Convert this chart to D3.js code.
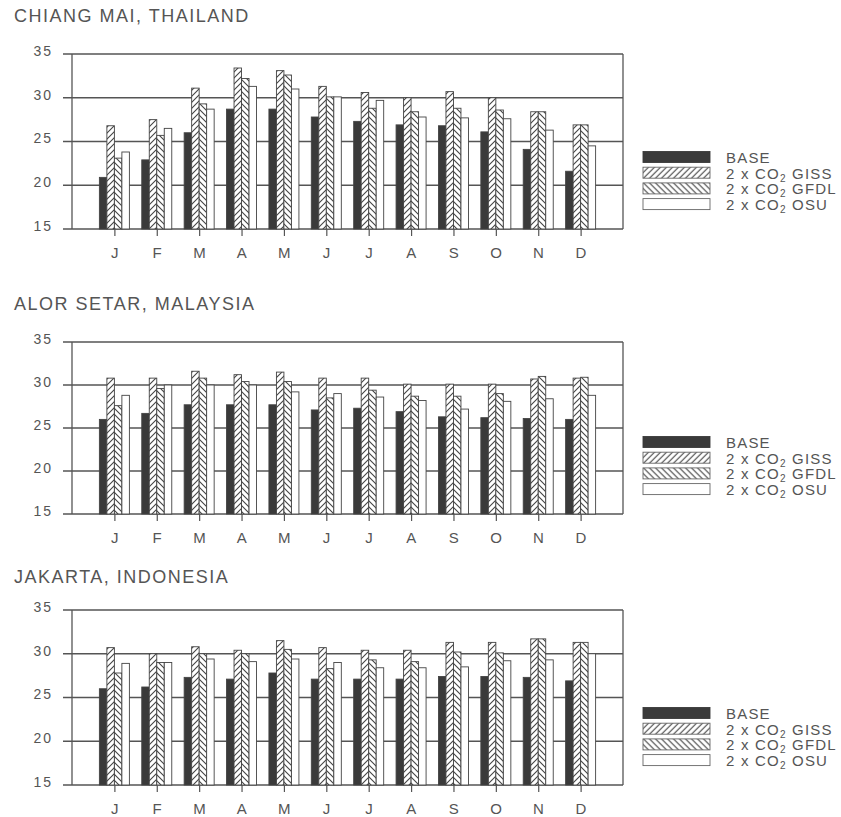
<!DOCTYPE html>
<meta charset="utf-8">
<head>
<style>
  body { margin: 0; background: #fff; }
  text { font-family: "Liberation Sans", Arial, Helvetica, sans-serif; fill: #555; }
</style>
</head>
<body>
<script src="https://d3js.org/d3.v7.min.js"></script>
<div id="chart"></div>
<script>

// month labels and series names
var months = ["J", "F", "M", "A", "M", "J", "J", "A", "S", "O", "N", "D"];
var seriesKeys = ["base", "giss", "gfdl", "osu"];
var yTicks = [15, 20, 25, 30, 35];

// Chiang Mai, Thailand (deg C)
var chiangBase = [20.9, 22.9, 26.0, 28.7, 28.7, 27.8, 27.3, 26.9, 26.8, 26.1, 24.1, 21.6];
var chiangGiss = [26.8, 27.5, 31.1, 33.4, 33.1, 31.3, 30.6, 30.0, 30.7, 30.0, 28.4, 26.9];
var chiangGfdl = [23.1, 25.7, 29.3, 32.2, 32.6, 30.1, 28.8, 28.4, 28.8, 28.6, 28.4, 26.9];
var chiangOsu  = [23.8, 26.5, 28.7, 31.3, 31.0, 30.1, 29.7, 27.8, 27.7, 27.6, 26.3, 24.5];

// Alor Setar, Malaysia
var alorBase = [26.0, 26.7, 27.7, 27.7, 27.7, 27.1, 27.3, 26.9, 26.3, 26.2, 26.1, 26.0];
var alorGiss = [30.8, 30.8, 31.6, 31.2, 31.5, 30.8, 30.8, 30.1, 30.1, 30.1, 30.7, 30.8];
var alorGfdl = [27.6, 29.6, 30.8, 30.4, 30.4, 28.5, 29.4, 28.7, 28.7, 29.0, 31.0, 30.9];
var alorOsu  = [28.8, 30.0, 30.0, 30.0, 29.2, 29.0, 28.6, 28.2, 27.2, 28.1, 28.4, 28.8];

// Jakarta, Indonesia
var jakBase = [26.0, 26.2, 27.3, 27.1, 27.8, 27.1, 27.1, 27.1, 27.4, 27.4, 27.3, 26.9];
var jakGiss = [30.7, 30.0, 30.8, 30.4, 31.5, 30.7, 30.4, 30.4, 31.3, 31.3, 31.7, 31.3];
var jakGfdl = [27.8, 29.0, 30.0, 30.0, 30.5, 28.3, 29.3, 29.1, 30.2, 30.1, 31.7, 31.3];
var jakOsu  = [28.9, 29.0, 29.4, 29.1, 29.4, 29.0, 28.4, 28.4, 28.5, 29.2, 29.3, 30.0];

var panels = [
  { title: "CHIANG MAI, THAILAND", titleY: 22, top: 54, bottom: 229,
    series: [chiangBase, chiangGiss, chiangGfdl, chiangOsu] },
  { title: "ALOR SETAR, MALAYSIA", titleY: 310, top: 342, bottom: 514,
    series: [alorBase, alorGiss, alorGfdl, alorOsu] },
  { title: "JAKARTA, INDONESIA", titleY: 583, top: 610, bottom: 785,
    series: [jakBase, jakGiss, jakGfdl, jakOsu] }
];

var legendItems = [
  { key: "base", label: "BASE" },
  { key: "giss", label: "GISS" },
  { key: "gfdl", label: "GFDL" },
  { key: "osu", label: "OSU" }
];

var W = 841, H = 817;
var left = 72, right = 623;
var ink = "#555";

var svg = d3.select("#chart").append("svg")
  .attr("width", W)
  .attr("height", H);

// hatch patterns
var defs = svg.append("defs");
function hatch(id, d) {
  var p = defs.append("pattern")
    .attr("id", id)
    .attr("patternUnits", "userSpaceOnUse")
    .attr("width", 6).attr("height", 6);
  p.append("rect").attr("width", 6).attr("height", 6).attr("fill", "#fff");
  p.append("path").attr("d", d)
    .attr("stroke", "#444").attr("stroke-width", 1.1).attr("fill", "none");
}
hatch("hatchGiss", "M0,6 L6,0 M-1,1 L1,-1 M5,7 L7,5");
hatch("hatchGfdl", "M0,0 L6,6 M-1,5 L1,7 M5,-1 L7,1");

var fills = { base: "#3a3a3a", giss: "url(#hatchGiss)", gfdl: "url(#hatchGfdl)", osu: "#fff" };

// x: month index 1..12 inside a 0..13 span
var x = d3.scaleLinear().domain([0, 13]).range([left, right]);
var inner = d3.scaleBand().domain(seriesKeys).range([-15, 15]);

panels.forEach(function(p) {
  var y = d3.scaleLinear().domain([15, 35]).range([p.bottom, p.top]);
  var g = svg.append("g");

  g.append("text")
    .attr("x", 14).attr("y", p.titleY)
    .style("font-size", "18px")
    .style("letter-spacing", "1.5px")
    .text(p.title);

  // grid lines with outward ticks
  g.selectAll(".grid")
    .data(yTicks)
    .enter().append("line")
    .attr("x1", left - 9).attr("x2", right)
    .attr("y1", function(d) { return y(d); })
    .attr("y2", function(d) { return y(d); })
    .attr("stroke", ink).attr("stroke-width", 1.3);

  g.selectAll(".ylab")
    .data(yTicks)
    .enter().append("text")
    .attr("x", 53).attr("y", function(d) { return y(d) - 3; })
    .attr("dy", "0.35em")
    .attr("text-anchor", "end")
    .style("font-size", "14px")
    .style("letter-spacing", "2px")
    .text(function(d) { return d; });

  // frame sides
  g.append("line")
    .attr("x1", left).attr("x2", left)
    .attr("y1", y(35)).attr("y2", y(15))
    .attr("stroke", ink).attr("stroke-width", 1.3);
  g.append("line")
    .attr("x1", right).attr("x2", right)
    .attr("y1", y(35)).attr("y2", y(15))
    .attr("stroke", ink).attr("stroke-width", 1.3);

  // bars
  var rows = [];
  months.forEach(function(m, i) {
    seriesKeys.forEach(function(k, s) {
      rows.push({ month: i + 1, key: k, value: p.series[s][i] });
    });
  });

  g.selectAll(".bar")
    .data(rows)
    .enter().append("rect")
    .attr("x", function(d) { return x(d.month) + inner(d.key); })
    .attr("width", inner.bandwidth())
    .attr("y", function(d) { return y(d.value); })
    .attr("height", function(d) { return y(15) - y(d.value); })
    .attr("fill", function(d) { return fills[d.key]; })
    .attr("stroke", "#444")
    .attr("stroke-width", 0.9);

  // month axis
  var ax = g.append("g")
    .attr("transform", "translate(0," + y(15) + ")")
    .call(d3.axisBottom(x)
      .tickValues(d3.range(1, 13))
      .tickFormat(function(d) { return months[d - 1]; })
      .tickSize(7)
      .tickSizeOuter(0));
  ax.select(".domain").remove();
  ax.selectAll("line").attr("stroke", ink).attr("stroke-width", 1.2);
  ax.selectAll("text")
    .attr("y", 29).attr("dy", 0)
    .attr("fill", ink)
    .style("font-family", "'Liberation Sans', Arial, sans-serif")
    .style("font-size", "15px")
    .style("letter-spacing", "0.5px");

  // legend
  var lg = g.selectAll(".leg")
    .data(legendItems)
    .enter().append("g")
    .attr("transform", function(d, i) {
      return "translate(643," + (y(15) - 66 + i * 15.7) + ")";
    });
  lg.append("rect")
    .attr("x", 0).attr("y", -11.5)
    .attr("width", 67).attr("height", 11)
    .attr("fill", function(d) { return fills[d.key]; })
    .attr("stroke", function(d) { return d.key == "base" ? "#3a3a3a" : "#666"; })
    .attr("stroke-width", 0.9);
  var lt = lg.append("text")
    .attr("x", 83).attr("y", 0)
    .style("font-size", "15px")
    .style("letter-spacing", "1.2px");
  lt.each(function(d) {
    var t = d3.select(this);
    if (d.key == "base") {
      t.text(d.label);
    } else {
      t.append("tspan").text("2 x CO");
      t.append("tspan").attr("dy", 3).style("font-size", "10px").text("2");
      t.append("tspan").attr("dy", -3).text(" " + d.label);
    }
  });
});

</script>
</body>
